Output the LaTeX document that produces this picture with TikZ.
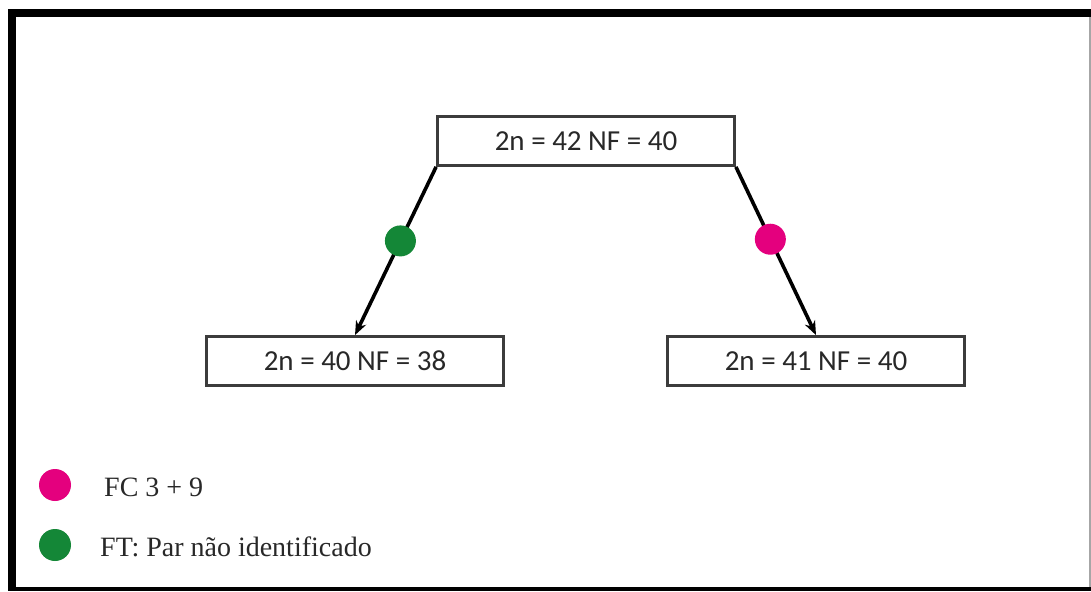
\documentclass[tikz,border=0pt]{standalone}
\usepackage{fontspec}
\setmainfont{Liberation Serif}
\newfontfamily\boxfont{Carlito}
\usetikzlibrary{arrows.meta}
\definecolor{dotpink}{RGB}{228,0,126}
\definecolor{dotgreen}{RGB}{20,135,55}
\definecolor{boxline}{RGB}{60,60,60}
\definecolor{txt}{RGB}{40,40,40}
\tikzset{
  valbox/.style={draw=boxline, line width=2.8pt, fill=white, minimum width=297pt, minimum height=49pt, inner sep=0pt, font=\boxfont\fontsize{29}{32}\selectfont, text=txt},
  link/.style={line width=3.6pt, black, -{Stealth[length=14pt,width=11pt]}},
  dotmark/.style={circle, inner sep=0pt, minimum size=31pt},
  legtext/.style={anchor=west, inner sep=0pt, font=\fontsize{28}{32}\selectfont, text=txt}
}
\begin{document}
\begin{tikzpicture}[x=1pt,y=-1pt]
\useasboundingbox (0,0) rectangle (1091,591);
\fill[white] (0,0) rectangle (1091,591);
% frame
\fill[black] (8,9) rectangle (1091,17);
\fill[black] (8,9) rectangle (16,591);
\fill[black] (8,587) rectangle (1091,591);
\draw[gray!70, line width=1.5pt] (1090,17) -- (1090,587);
% boxes
\node[valbox] (top) at (586,141) {2n = 42 NF = 40};
\node[valbox] (left) at (355,361) {2n = 40 NF = 38};
\node[valbox] (right) at (816,361) {2n = 41 NF = 40};
% connectors
\draw[link] (top.south west) -- (left.north) node[pos=0.44, dotmark, fill=dotgreen] (gdot) {};
\draw[link] (top.south east) -- (right.north) node[pos=0.43, dotmark, fill=dotpink] (pdot) {};
% legend
\node[dotmark, fill=dotpink, minimum size=32pt] (lp) at (55,485) {};
\node[legtext] (lpt) at (104,487) {FC 3 + 9};
\node[dotmark, fill=dotgreen, minimum size=32pt] (lg) at (55,545) {};
\node[legtext] (lgt) at (100,547) {FT: Par não identificado};
\end{tikzpicture}
\end{document}
